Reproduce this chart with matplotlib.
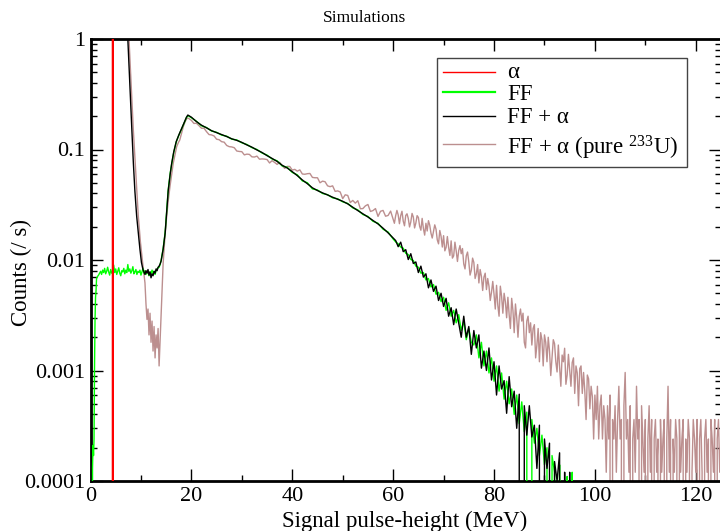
import numpy as np
import matplotlib
matplotlib.use("Agg")
import matplotlib.pyplot as plt
from matplotlib.ticker import MultipleLocator, LogLocator, FixedLocator, FixedFormatter, NullFormatter
from matplotlib.lines import Line2D
from matplotlib.patches import Rectangle

# ---------------- data ----------------
series_labels = ["α", "FF", "FF + α", "FF + α (pure $\\mathregular{^{233}}$U)"]
y_tick_values = [1e-4, 1e-3, 1e-2, 1e-1, 1.0]
y_tick_labels = ["0.0001", "0.001", "0.01", "0.1", "1"]

# alpha peak
alpha_x = [4.3, 4.4, 4.5]
alpha_y = [0.0, 30.0, 0.0]

# FF + alpha (black)
ffa_head_x = [6.5, 7.0, 7.4, 7.8, 8.2, 8.5, 8.8, 9.15, 9.5, 9.8, 10.1, 10.4,
              10.6, 10.8, 11.0, 11.2, 11.4, 11.6, 11.8, 12.0, 12.2, 12.4, 12.6, 12.8,
              13.0, 13.2, 13.4, 13.6, 13.8,
              14.0, 14.4, 14.8, 15.1, 15.4, 15.8, 16.1, 16.5, 17.0, 17.5, 18.0, 18.5, 19.0, 19.3]
ffa_head_y = [6.0, 2.2, 1.0, 0.38, 0.15, 0.075, 0.042, 0.025, 0.017, 0.0125, 0.0095, 0.0082,
              0.0078, 0.0074, 0.0080, 0.0076, 0.0082, 0.0073, 0.0078, 0.0069, 0.0075, 0.0072, 0.0079, 0.0076,
              0.0083, 0.0080, 0.0086, 0.0088, 0.0092,
              0.0098, 0.0125, 0.0175, 0.027, 0.042, 0.060, 0.075, 0.095, 0.118, 0.135, 0.152, 0.172, 0.195, 0.205]
ffa_mid_y = [0.196, 0.179, 0.166, 0.157, 0.148, 0.142, 0.136, 0.131, 0.125, 0.121,
             0.116, 0.110, 0.105, 0.099, 0.094, 0.088, 0.083, 0.078, 0.072, 0.068,
             0.063, 0.058, 0.053, 0.049, 0.045, 0.0425, 0.0405, 0.0388, 0.0370, 0.0355,
             0.0340, 0.0322, 0.0300, 0.0280, 0.0262, 0.0245, 0.0228, 0.0212, 0.0194, 0.0176,
             0.0158]                                   # x = 20 .. 60, step 1
ffa_tail_y = [0.0150, 0.0132, 0.0145, 0.0119, 0.0124, 0.0101, 0.0114, 0.0093, 0.0096, 0.0077,
              0.0088, 0.0070, 0.0075, 0.0056, 0.0066, 0.0052, 0.0058, 0.0043, 0.0050,
              0.0038, 0.0045, 0.0031, 0.0037, 0.0026, 0.0036, 0.0027, 0.0020, 0.0031, 0.0020,
              0.0025, 0.0014, 0.0023, 0.0016, 0.0021, 0.00105, 0.0015, 0.0010, 0.0016, 0.00082,
              0.0012, 0.0006, 0.0011, 0.00068, 0.00081, 0.00041, 0.00088, 0.00047, 0.00065, 0.0003,
              0.00061, 0.0, 0.00048, 0.00026, 0.00048, 0.00025, 0.00032, 0.00013, 0.00032, 0.0,
              0.00024, 0.00013, 0.00022, 0.0, 0.00015, 0.0001, 0.00018, 0.0, 0.00012, 0.0,
              0.00012, 0.0, 0.0]                       # x = 60.5 .. , step 0.5

# FF (green)
ff_head_x = [0.3, 0.4, 0.5, 0.6, 0.7, 0.8, 0.9, 1.0, 1.1, 1.2, 1.4]
ff_head_y = [0.0, 0.00013, 0.00021, 0.00017, 0.00024, 0.0011, 0.0029, 0.0046, 0.0053, 0.0068, 0.0071]
ff_flat_y = [0.0073, 0.0076, 0.0079, 0.0074, 0.0081, 0.0077, 0.0084, 0.0075, 0.0079, 0.0086,
             0.0078, 0.0073, 0.0082, 0.0076, 0.0080, 0.0090, 0.0077, 0.0083, 0.0074, 0.0079,
             0.0085, 0.0076, 0.0072, 0.0080, 0.0078, 0.0084, 0.0075, 0.0081, 0.0077, 0.0091,
             0.0079, 0.0083, 0.0076, 0.0080, 0.0087, 0.0075, 0.0078, 0.0082, 0.0074, 0.0079,
             0.0077, 0.0081, 0.0073, 0.0078, 0.0084, 0.0076, 0.0080, 0.0074, 0.0079, 0.0077,
             0.0072, 0.0078, 0.0075, 0.0081, 0.0076, 0.0079, 0.0074, 0.0080, 0.0083, 0.0085]  # x = 1.6 .. 13.4, step 0.2
ff_rise_x = [13.6, 13.8, 14.0, 14.4, 14.8, 15.1, 15.4, 15.8, 16.1, 16.5, 17.0, 17.5, 18.0, 18.5, 19.0, 19.3]
ff_rise_y = [0.0086, 0.0091, 0.0099, 0.0127, 0.0178, 0.028, 0.043, 0.061, 0.074, 0.094,
             0.117, 0.134, 0.151, 0.171, 0.193, 0.203]
ff_mid_y = [0.194, 0.180, 0.164, 0.158, 0.147, 0.143, 0.135, 0.132, 0.124, 0.122,
            0.115, 0.111, 0.104, 0.100, 0.093, 0.089, 0.082, 0.079, 0.071, 0.069,
            0.062, 0.059, 0.052, 0.050, 0.044, 0.043, 0.040, 0.039, 0.0365, 0.0358,
            0.0336, 0.0325, 0.0296, 0.0284, 0.0258, 0.0248, 0.0224, 0.0215, 0.0190, 0.0179,
            0.0155]                                    # x = 20 .. 60, step 1
ff_tail_y = [0.0146, 0.0140, 0.0131, 0.0128, 0.0115, 0.0112, 0.0101, 0.0099, 0.0088, 0.0086,
             0.0076, 0.0077, 0.0066, 0.0068, 0.0057, 0.0060, 0.0049, 0.0051, 0.0042, 0.0046,
             0.0035, 0.0041, 0.0031, 0.0035, 0.0027, 0.0032, 0.0023, 0.0028, 0.0019, 0.0024,
             0.0018, 0.0017, 0.0021, 0.0013, 0.0018, 0.0011, 0.0015, 0.00095, 0.0013, 0.0008,
             0.0011, 0.00065, 0.00095, 0.00055, 0.0008, 0.0005, 0.00068, 0.0004, 0.0006, 0.00033,
             0.00052, 0.00028, 0.00042, 0.0, 0.00036, 0.00022, 0.0003, 0.00017, 0.00026, 0.00014,
             0.0002, 0.0, 0.00017, 0.00012, 0.0, 0.00014, 0.0, 0.0, 0.00011, 0.0,
             0.00012, 0.0]                             # x = 60.5 .. , step 0.5

# FF + alpha, pure 233U (brown)
pure_head_x = [6.8, 7.2, 7.63, 8.0, 8.49, 9.0, 9.48, 9.9, 10.34, 10.8]
pure_head_y = [6.0, 2.0, 1.0, 0.45, 0.15, 0.06, 0.0247, 0.0145, 0.0094, 0.0062]
pure_dip_y = [0.0040, 0.0029, 0.0036, 0.0021, 0.0033, 0.0018, 0.0028, 0.0015, 0.0025, 0.0013,
              0.0021, 0.0016, 0.0024, 0.0011, 0.0019, 0.0032]          # x = 11.0 .. 14.0, step 0.2
pure_rise_x = [14.1, 14.4, 14.75, 15.1, 15.4, 15.75, 16.1, 16.4, 16.75, 17.08, 17.4, 17.7,
               18.05, 18.4, 18.75, 19.06, 19.4]
pure_rise_y = [0.0041, 0.0093, 0.016, 0.0247, 0.034, 0.046, 0.06, 0.075, 0.09, 0.106, 0.115, 0.122,
               0.14, 0.161, 0.178, 0.19, 0.192]
pure_mid_y = [0.1835, 0.1721, 0.1729, 0.1645, 0.1558, 0.1558, 0.1451, 0.1365, 0.1355, 0.1326,
              0.1239, 0.1227, 0.1177, 0.1165, 0.1088, 0.1061, 0.1055, 0.1038, 0.0969, 0.0960,
              0.0956, 0.0894, 0.0908, 0.0903, 0.0858, 0.0855, 0.0871, 0.0817, 0.0822, 0.0819,
              0.0811, 0.0755, 0.0792, 0.0764, 0.0733, 0.0766, 0.0713, 0.0675, 0.0703, 0.0702,
              0.0651, 0.0661, 0.0637, 0.0654, 0.0600, 0.0597, 0.0604, 0.0607, 0.0559, 0.0555,
              0.0555, 0.0500, 0.0517, 0.0511, 0.0469, 0.0461, 0.0469, 0.0418, 0.0422, 0.0413,
              0.0359, 0.0389, 0.0384, 0.0331, 0.0346, 0.0327, 0.0344, 0.0291, 0.0292, 0.0309,
              0.0318, 0.0275, 0.0280, 0.0292, 0.0248, 0.0276, 0.0281, 0.0249, 0.0253, 0.0277]  # x = 20 .. 59.5, step 0.5
pure_band_y = [0.0234, 0.0215, 0.0252, 0.0281, 0.0256, 0.0213, 0.0252, 0.0276,
               0.0225, 0.0204, 0.0253, 0.0262, 0.0238, 0.0199, 0.0221, 0.0264,
               0.0245, 0.0195, 0.0216, 0.0252, 0.0243, 0.0202, 0.0186, 0.0238,
               0.0193, 0.0168, 0.0215, 0.0183, 0.0227, 0.0207, 0.0175, 0.0158,
               0.0182, 0.0208, 0.0190, 0.0152, 0.0140, 0.0185, 0.0164, 0.0131,
               0.0166, 0.0121, 0.0130, 0.0163, 0.0130, 0.0110, 0.0149, 0.0104,
               0.0109, 0.0145, 0.0121, 0.0097, 0.0122, 0.0135, 0.0114, 0.0127,
               0.0092, 0.0083, 0.0109, 0.0118, 0.0096, 0.0073, 0.0081, 0.0104,
               0.0095, 0.0068, 0.0075, 0.0091, 0.0062, 0.0082, 0.0071, 0.0053,
               0.0070, 0.0076, 0.0054, 0.0068, 0.0058, 0.0043, 0.0051, 0.0064,
               0.0049, 0.0036, 0.0059, 0.0039, 0.0031, 0.0058, 0.0047, 0.0033,
               0.0050, 0.0042, 0.0030, 0.0046, 0.0032, 0.0024, 0.0045, 0.0035,
               0.0022, 0.0040, 0.0030, 0.0020, 0.0031, 0.0036, 0.0028, 0.0033,
               0.0018, 0.0016, 0.0028, 0.0031, 0.0022, 0.0027, 0.0017, 0.0024,
               0.0026, 0.0013, 0.0017, 0.0024, 0.0012, 0.0022, 0.0019, 0.0011,
               0.0021, 0.0018, 0.0012, 0.0020, 0.0015, 0.0009, 0.0013, 0.0019,
               0.00175, 0.0012, 0.00097, 0.0017, 0.00107, 0.00072, 0.00138, 0.0012,
               0.00159, 0.00075, 0.00091, 0.0014, 0.0010, 0.00072, 0.00118, 0.0013,
               0.00062, 0.0011, 0.00095, 0.00048, 0.00104, 0.0011, 0.00062, 0.00096,
               0.00065, 0.00036, 0.00091, 0.00084, 0.00045, 0.00072, 0.00058, 0.00024]  # x = 60 .. 99.75, step 0.25
pure_tail_y = [6.0e-4, 3.6e-4, 7.2e-4, 2.4e-4, 4.8e-4, 6.0e-4, 2.4e-4, 4.8e-4,
               3.6e-4, 1.2e-4, 4.8e-4, 2.4e-4, 6.0e-4, 0.0, 3.6e-4, 2.4e-4,
               4.8e-4, 1.2e-4, 3.6e-4, 7.2e-4, 2.4e-4, 3.6e-4, 0.0, 4.8e-4,
               9.6e-4, 2.4e-4, 3.6e-4, 1.2e-4, 4.8e-4, 0.0, 2.4e-4, 3.6e-4,
               1.2e-4, 7.2e-4, 2.4e-4, 3.6e-4, 0.0, 4.8e-4, 2.4e-4, 1.2e-4,
               3.6e-4, 0.0, 2.4e-4, 4.8e-4, 1.2e-4, 3.6e-4, 0.0, 2.4e-4,
               3.6e-4, 1.2e-4, 2.4e-4, 0.0, 3.6e-4, 1.2e-4, 2.4e-4, 3.6e-4,
               0.0, 2.4e-4, 7.2e-4, 1.2e-4, 3.6e-4, 0.0, 2.4e-4, 1.2e-4,
               3.6e-4, 2.4e-4, 0.0, 3.6e-4, 1.2e-4, 2.4e-4, 3.6e-4, 0.0,
               2.4e-4, 1.2e-4, 3.6e-4, 2.4e-4, 0.0, 1.2e-4, 3.6e-4, 2.4e-4,
               1.2e-4, 3.6e-4, 0.0, 2.4e-4, 3.6e-4, 1.2e-4, 0.0, 2.4e-4,
               3.6e-4, 1.2e-4, 2.4e-4, 0.0, 3.6e-4, 2.4e-4, 1.2e-4, 3.6e-4,
               0.0, 2.4e-4, 3.6e-4, 1.2e-4, 2.4e-4]   # x = 100 .. 125, step 0.25


def bins(start, step, values):
    """x positions of uniformly binned values"""
    return start + step * np.arange(len(values))


ffa_x = np.concatenate([ffa_head_x, bins(20, 1, ffa_mid_y), bins(60.5, 0.5, ffa_tail_y)])
ffa_y = np.concatenate([ffa_head_y, ffa_mid_y, ffa_tail_y])
ff_x = np.concatenate([ff_head_x, bins(1.6, 0.2, ff_flat_y), ff_rise_x,
                       bins(20, 1, ff_mid_y), bins(60.5, 0.5, ff_tail_y)])
ff_y = np.concatenate([ff_head_y, ff_flat_y, ff_rise_y, ff_mid_y, ff_tail_y])
pure_x = np.concatenate([pure_head_x, bins(11.0, 0.2, pure_dip_y), pure_rise_x,
                         bins(20, 0.5, pure_mid_y), bins(60, 0.25, pure_band_y),
                         bins(100, 0.25, pure_tail_y)])
pure_y = np.concatenate([pure_head_y, pure_dip_y, pure_rise_y, pure_mid_y, pure_band_y, pure_tail_y])

# ---------------- style ----------------
plt.rcParams["font.family"] = ["Liberation Serif", "DejaVu Serif"]
plt.rcParams["mathtext.fontset"] = "custom"
plt.rcParams["mathtext.rm"] = "Liberation Serif"
plt.rcParams["mathtext.it"] = "Liberation Serif:italic"
plt.rcParams["mathtext.bf"] = "Liberation Serif:bold"

W, H = 720, 531
fig = plt.figure(figsize=(W / 100, H / 100), dpi=100)


def fx(px):
    return px / W


def fy(py):
    return 1 - py / H


ax_l, ax_r, ax_t, ax_b = 90.5, 721.0, 39.0, 481.0
ax = fig.add_axes([fx(ax_l), fy(ax_b), (ax_r - ax_l) / W, (ax_b - ax_t) / H])
ax.set_yscale("log", nonpositive="clip")

c_alpha, c_ff, c_ffa, c_pure = "#ff0000", "#00ff00", "#000000", "#bc8f8f"
ax.plot(pure_x, pure_y, color=c_pure, lw=1.0, zorder=2)
ax.plot(ff_x, ff_y, color=c_ff, lw=1.0, zorder=3)
ax.plot(ffa_x, ffa_y, color=c_ffa, lw=1.0, zorder=4)
ax.plot(alpha_x, alpha_y, color=c_alpha, lw=1.2, zorder=5)

ax.set_xlim(0, 125)
ax.set_ylim(1e-4, 1)

ax.xaxis.set_major_locator(MultipleLocator(20))
ax.xaxis.set_minor_locator(MultipleLocator(10))
ax.yaxis.set_major_locator(FixedLocator(y_tick_values))
ax.yaxis.set_major_formatter(FixedFormatter(y_tick_labels))
ax.yaxis.set_minor_locator(LogLocator(base=10, subs=np.arange(2, 10)))
ax.yaxis.set_minor_formatter(NullFormatter())

ax.tick_params(which="both", direction="in", top=True, right=True, width=1.0, colors="black")
ax.tick_params(which="major", length=8.5, labelsize=16)
ax.tick_params(which="minor", length=4.3)
ax.tick_params(axis="x", which="major", pad=4.5)
ax.tick_params(axis="y", which="major", pad=4)
for s in ax.spines.values():
    s.set_linewidth(2.0)

fig.text(fx(364), fy(18), "Simulations", ha="center", va="center", fontsize=12.5)
fig.text(fx(405), fy(527), "Signal pulse-height (MeV)", ha="center", va="baseline", fontsize=16.5)
fig.text(fx(21), fy(272), "Counts (/ s)", ha="center", va="center", rotation=90, fontsize=16.5)

# ---------------- legend (xmgrace-like box) ----------------
box_l, box_t, box_r, box_b = 437, 58, 687, 167
fig.add_artist(Rectangle((fx(box_l), fy(box_b)), (box_r - box_l) / W, (box_b - box_t) / H,
                         transform=fig.transFigure, facecolor="white", edgecolor="#444444",
                         lw=1.0, zorder=10))
leg_colors = [c_alpha, c_ff, c_ffa, c_pure]
leg_widths = [1.0, 1.6, 1.0, 1.0]
leg_line_y = [72.3, 92.3, 115.7, 144.3]
leg_text_base = [78.0, 100.0, 122.7, 155.0]
for lab, col, lw_, ly, tb in zip(series_labels, leg_colors, leg_widths, leg_line_y, leg_text_base):
    fig.add_artist(Line2D([fx(443), fx(495)], [fy(ly), fy(ly)], transform=fig.transFigure,
                          color=col, lw=lw_, zorder=11))
    fig.text(fx(507), fy(tb), lab, ha="left", va="baseline", fontsize=16.5, zorder=12)

fig.savefig("out.png", dpi=100)
